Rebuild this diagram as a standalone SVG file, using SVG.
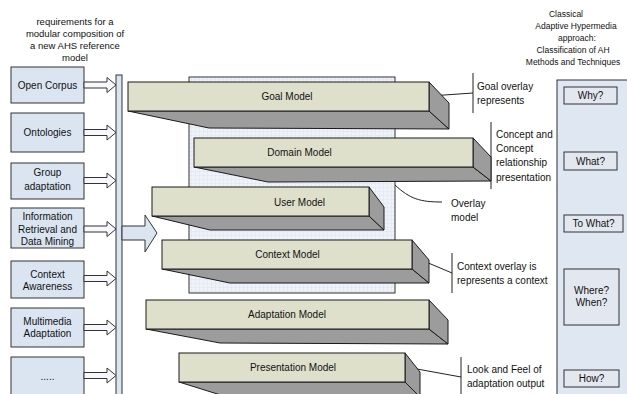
<svg xmlns="http://www.w3.org/2000/svg" width="627" height="394" viewBox="0 0 627 394">
<style>
text{font-family:"Liberation Sans",Arial,sans-serif;font-size:10px;fill:#111;text-anchor:middle}
.cap{font-size:9.5px}
.capr{font-size:8.5px}
.lt{text-anchor:start}
.req{fill:#dbe5f1;stroke:#333;stroke-width:1}
.sarr{fill:#f6f8fc;stroke:#333;stroke-width:1}
.front{fill:#dee0cb;stroke:#1a1a1a;stroke-width:1}
.side{fill:#9c9c9c;stroke:#1a1a1a;stroke-width:1}
.co{fill:none;stroke:#222;stroke-width:1}
.q{fill:#e3e8f0;stroke:#333;stroke-width:1}
</style>
<defs>
<pattern id="grid" width="4" height="4" patternUnits="userSpaceOnUse">
<rect width="4" height="4" fill="#eef2f9"/>
<path d="M4,0V4M0,4H4" stroke="#d5dcea" stroke-width="0.6"/>
</pattern>
<path id="sa" d="M84,-3H107V-7.5L116,0L107,7.5V3H84Z"/>
</defs>
<rect width="627" height="394" fill="#fff"/>

<g id="caption-left">
<text class="cap" x="75" y="25">requirements for a</text>
<text class="cap" x="75" y="37">modular composition of</text>
<text class="cap" x="75" y="49">a new AHS reference</text>
<text class="cap" x="75" y="61">model</text>
</g>
<g id="caption-right">
<text class="capr" x="566" y="17">Classical</text>
<text class="capr" x="576" y="29">Adaptive Hypermedia</text>
<text class="capr" x="577" y="40.5">approach:</text>
<text class="capr" x="573" y="52.5">Classification of AH</text>
<text class="capr" x="573" y="65">Methods and Techniques</text>
</g>

<g id="req-open-corpus"><rect class="req" x="11" y="67" width="73" height="36"/><text x="47.5" y="88.5">Open Corpus</text></g>
<g id="req-ontologies"><rect class="req" x="11" y="113" width="73" height="39"/><text x="47.5" y="136">Ontologies</text></g>
<g id="req-group"><rect class="req" x="11" y="163" width="73" height="36"/><text x="47.5" y="176">Group</text><text x="47.5" y="190">adaptation</text></g>
<g id="req-info"><rect class="req" x="11" y="208" width="73" height="40"/><text x="47.5" y="220">Information</text><text x="47.5" y="232.5">Retrieval and</text><text x="47.5" y="245">Data Mining</text></g>
<g id="req-context"><rect class="req" x="11" y="261" width="73" height="37"/><text x="47.5" y="277.5">Context</text><text x="47.5" y="290">Awareness</text></g>
<g id="req-multimedia"><rect class="req" x="11" y="308" width="73" height="39"/><text x="47.5" y="324.5">Multimedia</text><text x="47.5" y="337">Adaptation</text></g>
<g id="req-more"><rect class="req" x="11" y="357" width="73" height="45"/><text x="47.5" y="380">.....</text></g>

<g id="bar"><rect x="116" y="75" width="6" height="330" fill="#dbe5f1" stroke="#333"/></g>

<g id="connectors">
<use href="#sa" class="sarr" transform="translate(0,85)"/>
<use href="#sa" class="sarr" transform="translate(0,132.5)"/>
<use href="#sa" class="sarr" transform="translate(0,180.5)"/>
<use href="#sa" class="sarr" transform="translate(0,229)"/>
<use href="#sa" class="sarr" transform="translate(0,278.5)"/>
<use href="#sa" class="sarr" transform="translate(0,327.5)"/>
<use href="#sa" class="sarr" transform="translate(0,375.5)"/>
<path d="M122,226H145V215L157,233L145,252V240H122Z" fill="#dbe5f1" stroke="#333"/>
<path class="co" d="M430,96L473,93M473,73V113"/>
<path class="co" d="M473,153L491,157M491,122V189"/>
<path class="co" d="M395,185C410,199 420,202 442,202"/>
<path class="co" d="M407,254L452,273M452,253V293"/>
<path class="co" d="M406,367L461,377M461,357V396"/>
</g>

<g id="overlay-panel"><rect x="189" y="77" width="206" height="216" fill="url(#grid)" stroke="#333"/></g>

<g id="goal-model">
<polygon class="side" points="128,111 429,111 449,129 209,128"/>
<polygon class="side" points="429,82 449,103 449,129 429,111"/>
<rect class="front" x="128" y="82" width="301" height="29"/>
<text x="287" y="99.5">Goal Model</text>
</g>
<g id="domain-model">
<polygon class="side" points="194,167 473,167 491,181 268,182"/>
<polygon class="side" points="473,138 491,157 491,181 473,167"/>
<rect class="front" x="194" y="138" width="279" height="29"/>
<text x="299.5" y="155.5">Domain Model</text>
</g>
<g id="user-model">
<polygon class="side" points="152,216 369,216 384,230 210,230"/>
<polygon class="side" points="369,187 384,207 384,230 369,216"/>
<rect class="front" x="152" y="187" width="217" height="29"/>
<text x="299.5" y="205.5">User Model</text>
</g>
<g id="context-model">
<polygon class="side" points="162,269 412,269 429,283 230,283"/>
<polygon class="side" points="412,240 429,260 429,283 412,269"/>
<rect class="front" x="162" y="240" width="250" height="29"/>
<text x="287.5" y="257.5">Context Model</text>
</g>
<g id="adaptation-model">
<polygon class="side" points="146,329 429,329 448,344 220,343"/>
<polygon class="side" points="429,300 448,320 448,344 429,329"/>
<rect class="front" x="146" y="300" width="283" height="29"/>
<text x="287" y="317.5">Adaptation Model</text>
</g>
<g id="presentation-model">
<polygon class="side" points="179,382 405,382 420,397 227,397"/>
<polygon class="side" points="405,353 420,372 420,397 405,382"/>
<rect class="front" x="179" y="353" width="226" height="29"/>
<text x="293" y="370.5">Presentation Model</text>
</g>

<g id="callout-goal"><text class="lt" x="477" y="89.5">Goal overlay</text><text class="lt" x="477" y="103.5">represents</text></g>
<g id="callout-domain"><text class="lt" x="496" y="137.5">Concept and</text><text class="lt" x="496" y="151.5">Concept</text><text class="lt" x="496" y="166">relationship</text><text class="lt" x="496" y="180.5">presentation</text></g>
<g id="callout-overlay"><text class="lt" x="451" y="206.5">Overlay</text><text class="lt" x="451" y="221">model</text></g>
<g id="callout-context"><text class="lt" x="457" y="269.5">Context overlay is</text><text class="lt" x="457" y="283.5">represents a context</text></g>
<g id="callout-presentation"><text class="lt" x="467" y="372.5">Look and Feel of</text><text class="lt" x="467" y="386.5">adaptation output</text></g>

<g id="ah-panel"><rect x="557" y="80" width="80" height="330" fill="#dfe7f3" stroke="#333"/></g>
<g id="q-why"><rect class="q" x="564" y="87" width="53" height="17"/><text x="590.5" y="99">Why?</text></g>
<g id="q-what"><rect class="q" x="564" y="152" width="53" height="18"/><text x="590.5" y="164.5">What?</text></g>
<g id="q-towhat"><rect class="q" x="564" y="215" width="59" height="17"/><text x="593.5" y="227">To What?</text></g>
<g id="q-where"><rect class="q" x="564" y="269" width="55" height="56"/><text x="591.5" y="294">Where?</text><text x="591.5" y="305.5">When?</text></g>
<g id="q-how"><rect class="q" x="564" y="370" width="55" height="17"/><text x="591.5" y="382">How?</text></g>
</svg>
